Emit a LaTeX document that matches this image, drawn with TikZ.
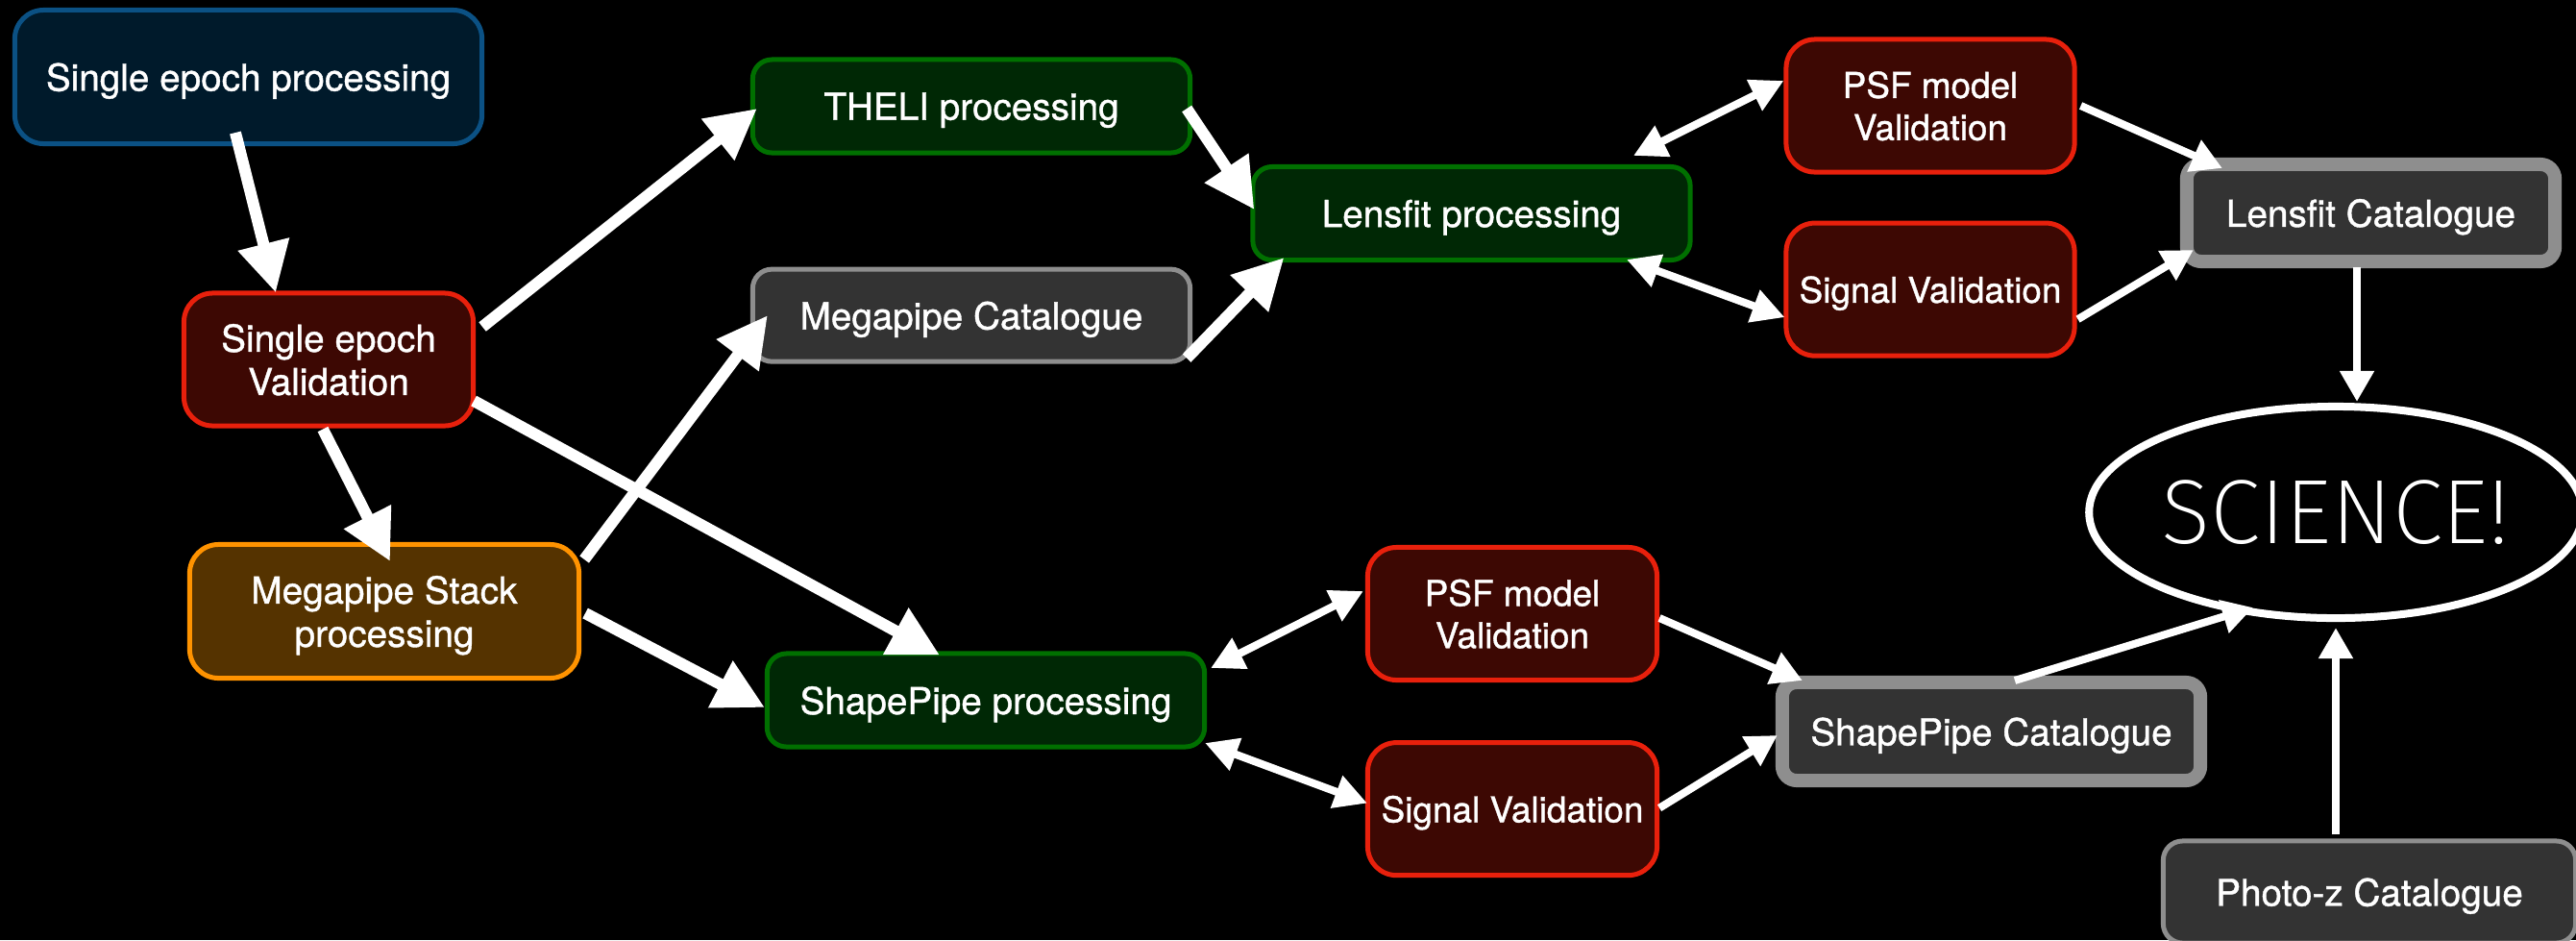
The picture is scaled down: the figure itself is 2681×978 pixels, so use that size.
\documentclass[tikz,border=0pt]{standalone}
\usepackage{fontspec}
\setmainfont{TeX Gyre Heros}[RawFeature={embolden=1}]
\newfontfamily\sciencefont{Fira Sans ExtraLight}
\usepackage{xcolor}
\definecolor{epochblue}{HTML}{0B5184}
\definecolor{epochfill}{HTML}{001A2B}
\definecolor{valred}{HTML}{E8200C}
\definecolor{valfill}{HTML}{3D0803}
\definecolor{stackorange}{HTML}{FF9300}
\definecolor{stackfill}{HTML}{553300}
\definecolor{pipegreen}{HTML}{007000}
\definecolor{pipefill}{HTML}{002805}
\definecolor{catgray}{HTML}{8E8E8E}
\definecolor{catfill}{HTML}{333333}
\usetikzlibrary{
  arrows.meta,
  positioning,
  shapes.geometric,
  calc
}

\begin{document}
\begin{tikzpicture}[
  x=0.01cm, y=-0.01cm,
  box/.style={rectangle, rounded corners=0.3cm, line width=0.05cm, text=white, align=center, inner sep=0pt, text depth=0pt, font=\fontsize{11}{12.8}\selectfont},
  epochbox/.style={box, draw=epochblue, fill=epochfill},
  valbox/.style={box, draw=valred, fill=valfill, minimum width=3.0cm, minimum height=1.38cm, font=\fontsize{10.5}{12.5}\selectfont},
  stackbox/.style={box, draw=stackorange, fill=stackfill},
  pipebox/.style={box, rounded corners=0.2cm, draw=pipegreen, fill=pipefill, minimum width=4.55cm, minimum height=0.97cm},
  catbox/.style={box, rounded corners=0.2cm, draw=catgray, fill=catfill},
  bigcat/.style={catbox, line width=0.14cm, rounded corners=0.15cm},
  arr/.style={-{Triangle[length=0.52cm, width=0.52cm]}, line width=0.12cm, white},
  link/.style={-{Triangle[length=0.32cm, width=0.34cm]}, line width=0.08cm, white},
  twoway/.style={{Triangle[length=0.34cm, width=0.34cm]}-{Triangle[length=0.34cm, width=0.34cm]}, line width=0.08cm, white},
]

\fill[black] (0,0) rectangle (2681,978);
\useasboundingbox (0,0) rectangle (2681,978);

% Single epoch
\node[epochbox, minimum width=4.86cm, minimum height=1.39cm] (sep) at (258.5,80) {Single epoch processing};
\node[valbox, minimum width=3.01cm, font=\fontsize{11}{12.8}\selectfont] (sev) at (342,374) {Single epoch\\Validation};
\node[stackbox, minimum width=4.05cm, minimum height=1.39cm] (msp) at (400,636) {Megapipe Stack\\processing};

% Processing
\node[pipebox] (theli) at (1011,110.5) {THELI processing};
\node[catbox, minimum width=4.55cm, minimum height=0.96cm, below=1.16cm of theli] (mcat) {Megapipe Catalogue};
\node[pipebox] (spp) at (1026,728.5) {ShapePipe processing};
\node[pipebox] (lfp) at (1531.5,222) {Lensfit processing};

% Validation
\node[valbox] (psf1) at (2009,110) {PSF model\\Validation};
\node[valbox, below=0.48cm of psf1] (sig1) {Signal Validation};
\node[valbox, minimum width=3.01cm] (psf2) at (1574,638.5) {PSF model\\Validation};
\node[valbox, minimum width=3.01cm, below=0.6cm of psf2] (sig2) {Signal Validation};

% Catalogues
\node[bigcat, minimum width=3.83cm, minimum height=1.01cm] (lfcat) at (2467.5,221.5) {Lensfit Catalogue};
\node[bigcat, minimum width=4.35cm, minimum height=1.02cm] (spcat) at (2072.5,761) {ShapePipe Catalogue};
\node[catbox, minimum width=4.29cm, minimum height=1.06cm] (photoz) at (2466,928) {Photo-z Catalogue};
\node[ellipse, draw=white, line width=0.08cm, minimum width=4.84cm, minimum height=2.2cm, inner sep=0pt, text=white, font=\sciencefont\fontsize{27}{27}\selectfont] (science) at (2431,533) {SCIENCE!};

% Arrows
\draw[arr] ($(sep.south)+(-13.5,-14)$) -- ($(sev.north)+(-55,2)$);
\draw[arr] ($(sev.east)+(7,-34)$) -- ($(theli.west)+(7,2.5)$);
\draw[arr] ($(sev.south)+(-6,1)$) -- ($(msp.north)+(6,20)$);
\draw[arr] ($(sev.east)+(-2,43)$) -- ($(spp.north)+(-48,4)$);
\draw[arr] ($(msp.east)+(3,-54)$) -- ($(mcat.west)+(18,0)$);
\draw[arr] ($(msp.east)+(4,2)$) -- ($(spp.west)+(0,7.5)$);
\draw[arr] ($(theli.east)+(-6,2.5)$) -- ($(lfp.west)+(4,-4)$);
\draw[arr] ($(mcat.east)+(-6,44.5)$) -- ($(lfp.south west)+(35,-5)$);

\draw[twoway] ($(lfp.north)+(168.5,-9)$) -- ($(psf1.west)+(0,-26)$);
\draw[twoway] ($(lfp.south)+(161.5,-3)$) -- ($(sig1.west)+(1,29)$);
\draw[link] ($(psf1.east)+(4,0)$) -- ($(lfcat.north west)+(44,11)$);
\draw[link] ($(sig1.east)+(1,31)$) -- ($(lfcat.south west)+(14,-19)$);
\draw[link] ($(lfcat.south)+(-14.5,-1)$) -- ($(science.north)+(22,-1)$);

\draw[twoway] ($(spp.east)+(4,-33.5)$) -- ($(psf2.west)+(-2,-23.5)$);
\draw[twoway] ($(spp.east)+(-2,44.5)$) -- ($(sig2.west)+(2,-6)$);
\draw[link] ($(psf2.east)+(0,4.5)$) -- ($(spcat.north west)+(28,5)$);
\draw[link] ($(sig2.east)+(0,-1)$) -- ($(spcat.west)+(2,4)$);
\draw[link] ($(spcat.north)+(24.5,5)$) -- ($(science.south)+(-86,-15)$);
\draw[link] ($(photoz.north)+(-35,-4)$) -- ($(science.south)+(0,6)$);

\end{tikzpicture}
\end{document}
